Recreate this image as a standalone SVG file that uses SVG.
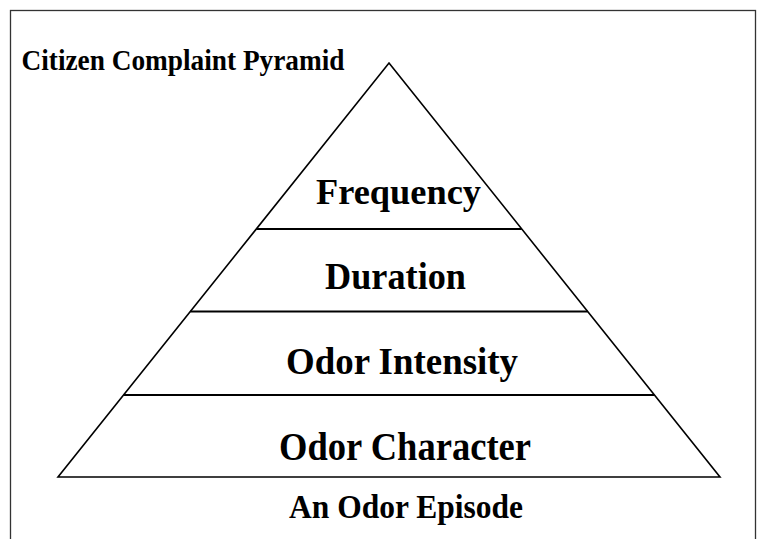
<svg xmlns="http://www.w3.org/2000/svg" width="763" height="539" viewBox="0 0 763 539">
  <style>
    .frame { fill: none; stroke: #333333; stroke-width: 1.3; }
    .outline { fill: #ffffff; stroke: #000000; stroke-width: 1.6; stroke-linejoin: miter; }
    .divider { stroke: #000000; stroke-width: 2; fill: none; }
    .lbl { font-family: "Times New Roman", "Liberation Serif", Tinos, serif; font-weight: bold; fill: #000000; text-anchor: middle; }
    .title { font-family: "Times New Roman", "Liberation Serif", Tinos, serif; font-weight: bold; fill: #000000; }
  </style>
  <rect x="0" y="0" width="763" height="539" fill="#ffffff"/>
  <rect class="frame" x="10.5" y="10.5" width="745" height="545"/>

  <g id="title">
    <text class="title" x="21.5" y="70" font-size="29" textLength="323" lengthAdjust="spacingAndGlyphs">Citizen Complaint Pyramid</text>
  </g>

  <g id="pyramid">
    <polygon class="outline" points="389,63 720,477 58,477"/>
  </g>

  <g id="connectors">
    <line class="divider" x1="256.3" y1="229" x2="521.7" y2="229"/>
    <line class="divider" x1="190.3" y1="311.5" x2="587.7" y2="311.5"/>
    <line class="divider" x1="123.6" y1="395" x2="654.4" y2="395"/>
  </g>

  <g id="frequency">
    <text class="lbl" x="398.5" y="204" font-size="36" textLength="165" lengthAdjust="spacingAndGlyphs">Frequency</text>
  </g>
  <g id="duration">
    <text class="lbl" x="395.5" y="289" font-size="37" textLength="141" lengthAdjust="spacingAndGlyphs">Duration</text>
  </g>
  <g id="odor-intensity">
    <text class="lbl" x="402" y="374" font-size="38" textLength="232" lengthAdjust="spacingAndGlyphs">Odor Intensity</text>
  </g>
  <g id="odor-character">
    <text class="lbl" x="405" y="460" font-size="40" textLength="252" lengthAdjust="spacingAndGlyphs">Odor Character</text>
  </g>
  <g id="episode">
    <text class="lbl" x="406" y="518" font-size="33" textLength="234" lengthAdjust="spacingAndGlyphs">An Odor Episode</text>
  </g>
</svg>
